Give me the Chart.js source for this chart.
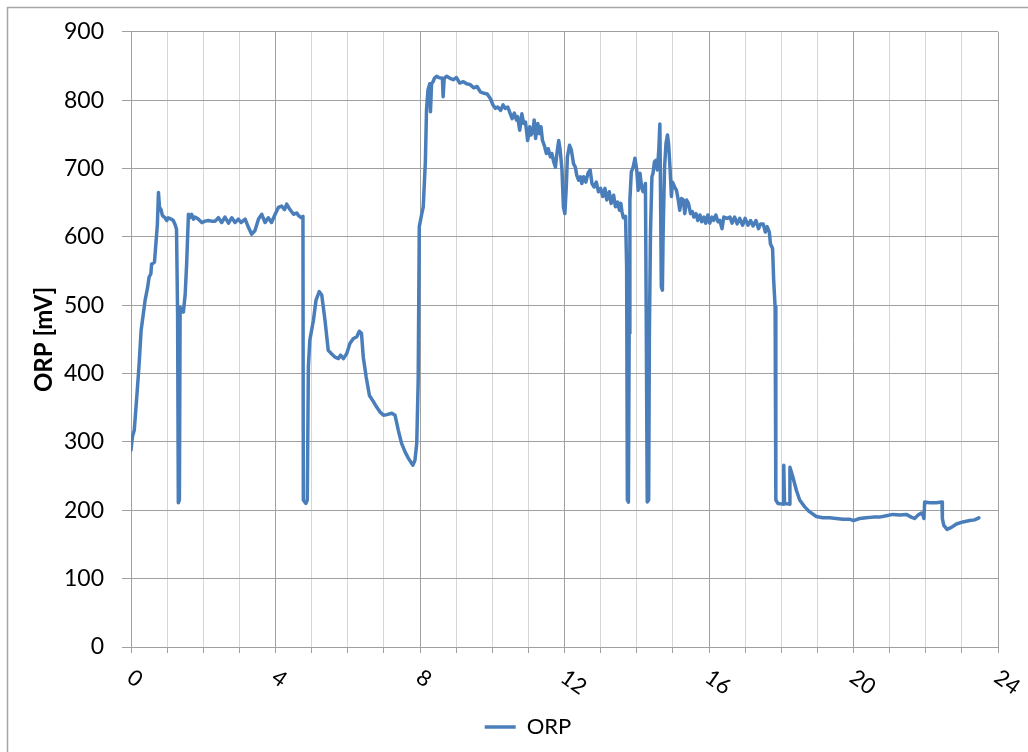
<!DOCTYPE html>
<html>
<head>
<meta charset="utf-8">
<title>ORP</title>
<script src="https://cdn.jsdelivr.net/npm/chart.js@4"></script>
<style>
  html, body { margin: 0; padding: 0; background: #fff; }
  #wrap { position: relative; width: 1028px; height: 752px; }
</style>
</head>
<body>
<div id="wrap"><canvas id="orpChart" width="1028" height="752"></canvas></div>
<script>
// time [h]
const timeH = [
  0, 0.04, 0.09, 0.16, 0.22, 0.28, 0.31, 0.39, 0.46, 0.5, 0.55, 0.57, 0.65, 0.68, 0.73, 0.76, 0.79, 0.83, 0.87, 0.94,
  0.99, 1.03, 1.11, 1.17, 1.22, 1.26, 1.29, 1.31, 1.34, 1.36, 1.4, 1.45, 1.5, 1.54, 1.59, 1.63, 1.68, 1.73, 1.77, 1.86,
  1.96, 2.05, 2.14, 2.23, 2.33, 2.42, 2.51, 2.6, 2.7, 2.79, 2.88, 2.97, 3.05, 3.16, 3.25, 3.34, 3.43, 3.53, 3.62, 3.71,
  3.8, 3.89, 3.99, 4.08, 4.17, 4.25, 4.31, 4.4, 4.5, 4.59, 4.64, 4.71, 4.76, 4.77, 4.84, 4.88, 4.91, 4.95, 5.05, 5.12,
  5.21, 5.28, 5.37, 5.46, 5.55, 5.65, 5.74, 5.8, 5.88, 5.97, 6.06, 6.15, 6.25, 6.32, 6.38, 6.43, 6.51, 6.6, 6.71, 6.8,
  6.89, 6.99, 7.08, 7.22, 7.31, 7.4, 7.49, 7.59, 7.68, 7.8, 7.86, 7.91, 7.95, 7.98, 8.05, 8.09, 8.15, 8.18, 8.22, 8.27,
  8.29, 8.32, 8.36, 8.4, 8.46, 8.52, 8.62, 8.64, 8.67, 8.74, 8.83, 8.92, 9.01, 9.1, 9.2, 9.29, 9.38, 9.49, 9.58, 9.67,
  9.77, 9.86, 9.95, 10.02, 10.09, 10.15, 10.23, 10.3, 10.36, 10.43, 10.5, 10.55, 10.61, 10.67, 10.7, 10.76, 10.82, 10.87, 10.92, 10.98,
  11.04, 11.07, 11.13, 11.16, 11.2, 11.26, 11.31, 11.35, 11.39, 11.44, 11.5, 11.55, 11.61, 11.65, 11.7, 11.75, 11.79, 11.84, 11.88, 11.93,
  11.97, 12.01, 12.05, 12.08, 12.14, 12.19, 12.25, 12.3, 12.34, 12.39, 12.44, 12.48, 12.53, 12.59, 12.65, 12.71, 12.76, 12.82, 12.88, 12.94,
  13.0, 13.06, 13.12, 13.17, 13.24, 13.29, 13.36, 13.41, 13.47, 13.52, 13.56, 13.59, 13.63, 13.69, 13.72, 13.74, 13.77, 13.79, 13.81, 13.85,
  13.9, 13.95, 14.0, 14.04, 14.09, 14.14, 14.18, 14.24, 14.26, 14.29, 14.33, 14.35, 14.38, 14.42, 14.45, 14.49, 14.53, 14.57, 14.61, 14.64,
  14.66, 14.68, 14.71, 14.73, 14.77, 14.81, 14.85, 14.88, 14.92, 14.96, 14.99, 15.05, 15.1, 15.15, 15.19, 15.24, 15.29, 15.33, 15.38, 15.43,
  15.49, 15.54, 15.58, 15.64, 15.69, 15.75, 15.8, 15.86, 15.91, 15.97, 16.02, 16.08, 16.13, 16.19, 16.25, 16.3, 16.36, 16.41, 16.5, 16.58,
  16.64, 16.71, 16.78, 16.85, 16.93, 17.0, 17.08, 17.15, 17.22, 17.3, 17.37, 17.43, 17.5, 17.56, 17.61, 17.67, 17.7, 17.76, 17.79, 17.83,
  17.85, 17.91, 18.05, 18.07, 18.09, 18.22, 18.24, 18.32, 18.42, 18.51, 18.65, 18.78, 18.97, 19.15, 19.34, 19.52, 19.71, 19.89, 20.0, 20.17,
  20.35, 20.54, 20.72, 20.91, 21.09, 21.28, 21.46, 21.6, 21.69, 21.79, 21.88, 21.92, 21.95, 21.97, 22.11, 22.29, 22.45, 22.46, 22.5, 22.59,
  22.71, 22.85, 23.03, 23.22, 23.35, 23.47
];

// ORP [mV]
const orpMv = [
  288, 308, 317, 366, 410, 463, 475, 507, 526, 541, 546, 560, 563, 584, 618, 665, 643, 640, 631, 628,
  624, 628, 626, 624, 618, 611, 487, 211, 215, 497, 492, 490, 516, 560, 633, 628, 633, 626, 629, 626,
  621, 623, 624, 623, 623, 628, 621, 629, 620, 628, 621, 626, 621, 626, 614, 604, 609, 626, 633, 621,
  628, 621, 633, 643, 645, 640, 648, 640, 633, 635, 631, 628, 630, 215, 210, 215, 410, 449, 478, 507,
  520, 515, 478, 434, 429, 424, 422, 427, 422, 429, 444, 451, 454, 462, 459, 424, 395, 368, 359, 351,
  344, 339, 340, 342, 339, 317, 298, 285, 276, 266, 273, 298, 390, 615, 634, 644, 712, 785, 815, 824,
  783, 824, 827, 832, 835, 833, 832, 805, 832, 835, 832, 830, 833, 825, 827, 824, 823, 818, 820, 812,
  810, 809, 802, 793, 788, 790, 785, 793, 788, 790, 780, 773, 781, 771, 776, 756, 780, 766, 768, 741,
  761, 749, 754, 771, 744, 766, 751, 761, 741, 734, 722, 729, 717, 722, 710, 702, 722, 741, 727, 698,
  644, 634, 673, 717, 734, 727, 707, 702, 690, 683, 688, 678, 688, 680, 693, 698, 678, 673, 680, 666,
  671, 659, 671, 654, 666, 649, 661, 644, 651, 639, 649, 637, 628, 630, 556, 215, 212, 459, 654, 695,
  702, 715, 698, 668, 693, 671, 666, 678, 507, 212, 215, 459, 605, 688, 693, 710, 712, 698, 727, 765,
  654, 527, 522, 605, 702, 737, 749, 737, 702, 659, 680, 673, 668, 654, 639, 656, 654, 634, 654, 649,
  634, 637, 629, 634, 624, 632, 622, 629, 620, 632, 620, 629, 624, 632, 622, 624, 612, 629, 627, 629,
  620, 629, 619, 627, 617, 627, 617, 624, 616, 624, 612, 619, 619, 607, 615, 607, 590, 583, 537, 498,
  215, 210, 209, 266, 210, 209, 263, 249, 229, 215, 205, 198, 191, 189, 189, 188, 187, 187, 185, 188,
  189, 190, 190, 192, 194, 193, 194, 190, 188, 193, 196, 193, 188, 212, 211, 211, 212, 188, 178, 172,
  175, 180, 183, 185, 186, 189
];

const seriesName = "ORP";
const xLabelValues = [0, 4, 8, 12, 16, 20, 24];

const fontFamily = "Lato, 'Open Sans', sans-serif";
const lineBlue = "#4a7ebb";
const darkGrid = "#a0a0a0";
const lightGrid = "#d6d6d6";

// outer frame + rotated x labels (Excel style, rotated clockwise)
const chartDecor = {
  id: "chartDecor",
  afterDraw(chart) {
    const ctx = chart.ctx;
    const xs = chart.scales.x;
    const area = chart.chartArea;

    ctx.save();
    ctx.strokeStyle = "#a6a6a6";
    ctx.lineWidth = 1.5;
    ctx.beginPath();
    ctx.moveTo(7.5, chart.height);
    ctx.lineTo(7.5, 7.5);
    ctx.lineTo(chart.width, 7.5);
    ctx.stroke();
    ctx.restore();

    ctx.save();
    ctx.font = `22px ${fontFamily}`;
    ctx.fillStyle = "#000";
    ctx.textAlign = "left";
    ctx.textBaseline = "middle";
    xLabelValues.forEach(v => {
      const px = xs.getPixelForValue(v);
      ctx.save();
      ctx.translate(px - 1.5, area.bottom + 28);
      ctx.rotate(35 * Math.PI / 180);
      ctx.fillText(String(v), 0, 0);
      ctx.restore();
    });
    ctx.restore();
  }
};

const ctx = document.getElementById("orpChart").getContext("2d");
const orpChart = new Chart(ctx, {
  type: "line",
  data: {
    datasets: [
      {
        label: seriesName,
        data: timeH.map((t, i) => ({ x: t, y: orpMv[i] })),
        borderColor: lineBlue,
        backgroundColor: lineBlue,
        borderWidth: 3.5,
        borderJoinStyle: "round",
        borderCapStyle: "round",
        pointRadius: 0,
        tension: 0,
        pointStyle: "line",
      },
    ],
  },
  options: {
    responsive: false,
    animation: false,
    layout: { padding: { left: 58, right: 30, top: 31, bottom: 4 } },
    plugins: {
      tooltip: { enabled: false },
      legend: {
        position: "bottom",
        labels: {
          usePointStyle: true,
          pointStyleWidth: 31,
          padding: 10,
          color: "#000",
          font: { family: fontFamily, size: 22 },
        },
      },
    },
    scales: {
      x: {
        type: "linear",
        min: 0,
        max: 24,
        ticks: { stepSize: 1, display: false },
        grid: {
          color: c => (c.tick && c.tick.value % 4 === 0 ? darkGrid : lightGrid),
          tickColor: darkGrid,
          tickLength: 6,
        },
        border: { color: darkGrid },
        afterFit: s => { s.height = 59; },
      },
      y: {
        min: 0,
        max: 900,
        ticks: {
          stepSize: 100,
          padding: 18,
          color: "#000",
          font: { family: fontFamily, size: 23 },
        },
        grid: { color: darkGrid, tickColor: darkGrid, tickLength: 9 },
        border: { color: darkGrid },
        title: {
          display: true,
          text: "ORP [mV]",
          color: "#000",
          font: { family: fontFamily, size: 24, weight: "bold" },
          padding: { top: -28, bottom: 0 },
        },
        afterFit: s => { s.width = 73; },
      },
    },
  },
  plugins: [chartDecor],
});
</script>
</body>
</html>
